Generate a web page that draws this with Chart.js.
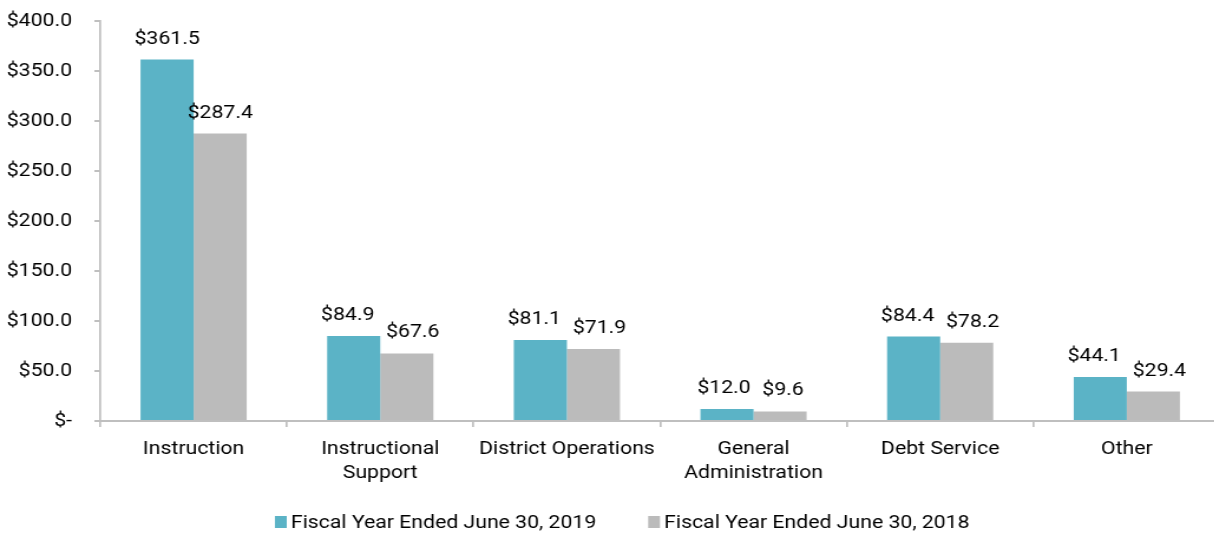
<!DOCTYPE html>
<html>
<head>
<meta charset="utf-8">
<script src="https://cdn.jsdelivr.net/npm/chart.js@4.4.1/dist/chart.umd.min.js"></script>
<style>
  html, body { margin: 0; padding: 0; background: #fff; overflow: hidden; width: 1214px; height: 535px; }
  #wrap { width: 1034px; height: 535px; position: absolute; left: 0; top: 0; transform: scaleX(1.18); transform-origin: 0 0; }
  #c { display: block; }
</style>
</head>
<body>
<div id="wrap"><canvas id="c" width="1034" height="535"></canvas></div>
<script>
const categories = [
  "Instruction",
  ["Instructional", "Support"],
  "District Operations",
  ["General", "Administration"],
  "Debt Service",
  "Other"
];
const series2019 = [361.5, 84.9, 81.1, 12.0, 84.4, 44.1];
const series2018 = [287.4, 67.6, 71.9, 9.6, 78.2, 29.4];
const seriesNames = ["Fiscal Year Ended June 30, 2019", "Fiscal Year Ended June 30, 2018"];
const yTicks = [0, 50, 100, 150, 200, 250, 300, 350, 400];

const COLORS = ["#5bb3c6", "#bbbbbb"];
const FONT = "Roboto, 'Liberation Sans', sans-serif";

function money(v) { return v === 0 ? "$-" : "$" + v.toFixed(1); }

const labelPlugin = {
  id: "barLabels",
  afterDatasetsDraw(chart) {
    const ctx = chart.ctx;
    ctx.save();
    ctx.font = "18px " + FONT;
    ctx.fillStyle = "#000";
    ctx.textAlign = "center";
    ctx.textBaseline = "alphabetic";
    const m0 = chart.getDatasetMeta(0), m1 = chart.getDatasetMeta(1);
    const d0 = chart.data.datasets[0].data, d1 = chart.data.datasets[1].data;
    const minGap = 10;
    for (let i = 0; i < d0.length; i++) {
      const b0 = m0.data[i], b1 = m1.data[i];
      const t0 = money(d0[i]), t1 = money(d1[i]);
      const w0 = ctx.measureText(t0).width, w1 = ctx.measureText(t1).width;
      let x0 = b0.x, x1 = b1.x;
      const y0 = b0.y - 16, y1 = b1.y - 16;
      if (Math.abs(y0 - y1) < 20) {
        const gap = (x1 - w1 / 2) - (x0 + w0 / 2);
        if (gap < minGap) {
          const d = (minGap - gap) / 2;
          x0 -= d; x1 += d;
        }
      }
      ctx.fillText(t0, x0, y0);
      ctx.fillText(t1, x1, y1);
    }
    ctx.restore();
  }
};

const legendPlugin = {
  id: "customLegend",
  afterDraw(chart) {
    const ctx = chart.ctx;
    ctx.save();
    ctx.font = "18px " + FONT;
    ctx.textBaseline = "middle";
    ctx.textAlign = "left";
    const boxW = 10, boxH = 12, gapText = 3.5, gapItems = 44;
    let x = 233;
    const y = 522;
    seriesNames.forEach((n, i) => {
      ctx.fillStyle = COLORS[i];
      ctx.fillRect(x, y - boxH / 2, boxW, boxH);
      ctx.fillStyle = "#000";
      ctx.fillText(n, x + boxW + gapText, y + 1);
      x += boxW + gapText + ctx.measureText(n).width + gapItems;
    });
    ctx.restore();
  }
};

new Chart(document.getElementById("c"), {
  type: "bar",
  data: {
    labels: categories,
    datasets: [
      { label: seriesNames[0], data: series2019, backgroundColor: COLORS[0], borderWidth: 0 },
      { label: seriesNames[1], data: series2018, backgroundColor: COLORS[1], borderWidth: 0 }
    ]
  },
  options: {
    responsive: false,
    maintainAspectRatio: false,
    animation: false,
    devicePixelRatio: 1,
    layout: { padding: { top: 21, right: 0, bottom: 0, left: 0 } },
    datasets: { bar: { barPercentage: 1.0, categoryPercentage: 0.569 } },
    plugins: {
      legend: { display: false },
      tooltip: { enabled: false }
    },
    scales: {
      x: {
        grid: { display: true, drawOnChartArea: false, offset: true, color: "#bfbfbf", lineWidth: 1.7, tickLength: 6 },
        border: { display: true, color: "#bfbfbf", width: 2 },
        ticks: { color: "#000", font: { family: FONT, size: 18, lineHeight: 1.33 }, padding: 11, maxRotation: 0, autoSkip: false },
        afterFit(scale) { scale.height = 114; }
      },
      y: {
        min: 0, max: 400,
        afterBuildTicks(scale) { scale.ticks = yTicks.map(v => ({ value: v })); },
        grid: { display: true, drawOnChartArea: false, color: "#bfbfbf", lineWidth: 2, tickLength: 5 },
        border: { display: true, color: "#bfbfbf", width: 1.7 },
        ticks: { color: "#000", font: { family: FONT, size: 18 }, padding: 19, callback: (v) => money(v) },
        afterFit(scale) { scale.width = 85; scale.paddingTop = 0; scale.paddingBottom = 0; }
      }
    }
  },
  plugins: [labelPlugin, legendPlugin]
});
</script>
</body>
</html>
